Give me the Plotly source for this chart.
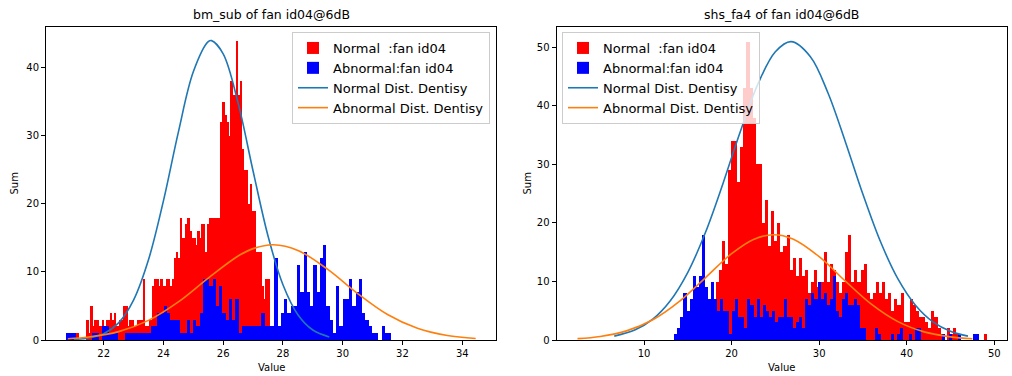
import numpy as np
import plotly.graph_objects as go

# ---------------- data ----------------
titles = ["bm_sub of fan id04@6dB", "shs_fa4 of fan id04@6dB"]
legend_names = ["Normal  :fan id04", "Abnormal:fan id04", "Normal Dist. Dentisy", "Abnormal Dist. Dentisy"]

# left panel: histogram bin ranges (100 bins each) and counts
left_normal_range = [21.05, 27.55]
left_normal_counts = [
    1, 1, 0, 0, 0, 0, 3, 1, 5, 2,
    3, 3, 2, 2, 3, 2, 3, 3, 4, 3,
    4, 2, 2, 3, 3, 5, 5, 2, 3, 3,
    2, 2, 3, 3, 3, 9, 2, 2, 3, 3,
    8, 9, 9, 8, 9, 8, 8, 9, 9, 8,
    9, 12, 13, 12, 18, 15, 15, 17, 18, 16,
    15, 15, 14, 16, 15, 17, 17, 13, 17, 18,
    18, 18, 18, 18, 18, 32, 35, 33, 32, 30,
    38, 36, 36, 44, 36, 38, 28, 25, 25, 20,
    23, 19, 19, 13, 13, 13, 8, 6, 9, 9,
]
left_abnormal_range = [20.75, 31.63]
left_abnormal_counts = [
    1, 1, 1, 0, 0, 0, 0, 0, 1, 1,
    0, 2, 2, 1, 1, 1, 0, 0, 1, 1,
    1, 1, 1, 1, 1, 1, 2, 2, 4, 4,
    5, 4, 3, 3, 3, 1, 1, 3, 1, 3,
    2, 4, 9, 9, 8, 9, 5, 8, 4, 3,
    6, 3, 6, 1, 2, 2, 2, 2, 2, 2,
    4, 2, 2, 2, 12, 2, 4, 6, 4, 5,
    5, 11, 7, 13, 7, 5, 11, 7, 12, 14,
    5, 3, 1, 8, 2, 6, 6, 9, 5, 7,
    9, 4, 3, 2, 1, 1, 0, 2, 1, 1,
]
# left density curves
left_ndist_x = [21.0, 21.5, 22.0, 22.5, 23.0, 23.5, 24.0, 24.5, 25.0, 25.5, 25.61, 26.0, 26.5, 27.0, 27.5, 28.0, 28.5, 29.0, 29.55]
left_ndist_y = [0.08, 0.30, 0.93, 2.52, 5.87, 11.79, 20.44, 30.56, 39.41, 43.84, 44.0, 42.06, 34.81, 24.84, 15.29, 8.12, 3.72, 1.47, 0.45]
left_adist_x = [20.8, 21.5, 22.5, 23.5, 24.5, 25.5, 26.5, 27.0, 27.68, 28.5, 29.5, 30.5, 31.5, 32.5, 33.5, 34.45]
left_adist_y = [0.19, 0.44, 1.23, 2.88, 5.60, 9.10, 12.34, 13.43, 14.0, 13.17, 10.37, 6.82, 3.74, 1.71, 0.65, 0.22]

# right panel
right_normal_range = [13.9, 49.1]
right_normal_counts = [
    1, 0, 0, 1, 0, 2, 1, 3, 2, 3,
    4, 5, 10, 12, 17, 13, 29, 34, 34, 27,
    33, 43, 51, 43, 38, 30, 30, 20, 24, 16,
    22, 17, 20, 15, 16, 18, 12, 14, 11, 14,
    11, 12, 8, 10, 12, 9, 10, 15, 10, 13,
    12, 10, 8, 10, 15, 18, 10, 12, 10, 12,
    13, 8, 7, 8, 10, 8, 10, 7, 8, 5,
    7, 6, 8, 3, 3, 7, 6, 5, 4, 4,
    3, 2, 5, 4, 2, 1, 0, 2, 1, 2,
    1, 0, 0, 0, 0, 0, 0, 0, 0, 1,
]
right_abnormal_range = [13.4, 48.2]
right_abnormal_counts = [
    1, 2, 4, 8, 5, 7, 11, 9, 11, 18,
    9, 7, 10, 7, 5, 7, 5, 5, 1, 5,
    7, 4, 4, 2, 7, 6, 4, 7, 4, 6,
    5, 4, 5, 3, 4, 4, 7, 4, 4, 2,
    3, 4, 2, 7, 6, 8, 7, 10, 7, 8,
    6, 7, 11, 5, 4, 7, 8, 6, 6, 7,
    6, 2, 2, 0, 0, 0, 2, 1, 0, 0,
    0, 1, 0, 1, 2, 0, 0, 1, 0, 2,
    2, 0, 0, 0, 0, 0, 0, 0, 1, 0,
    1, 0, 0, 1, 0, 0, 0, 0, 1, 1,
]
right_ndist_x = [6.6, 9, 11, 13, 15, 17, 19, 21, 23, 25, 26.8, 29, 31, 33, 35, 37, 39, 41, 43, 45, 47]
right_ndist_y = [0.66, 1.74, 3.57, 6.71, 11.57, 18.33, 26.67, 35.64, 43.73, 49.27, 51.0, 48.43, 42.26, 33.86, 24.91, 16.83, 10.44, 5.95, 3.11, 1.50, 0.66]
right_adist_x = [2.4, 5, 8, 11, 14, 17, 20, 22.5, 24.8, 27, 30, 33, 36, 39, 42, 45, 47.5]
right_adist_y = [0.23, 0.60, 1.56, 3.46, 6.56, 10.63, 14.75, 17.19, 18.0, 17.26, 14.24, 10.06, 6.08, 3.14, 1.39, 0.53, 0.21]

left_xticks = [22, 24, 26, 28, 30, 32, 34]
left_yticks = [0, 10, 20, 30, 40]
right_xticks = [10, 20, 30, 40, 50]
right_yticks = [0, 10, 20, 30, 40, 50]

# ---------------- figure ----------------
W, H = 1012, 376
RED, BLUE = "#ff0000", "#0000ff"
LBLUE, ORANGE = "#1f77b4", "#ff7f0e"


def bins(rng, counts):
    edges = np.linspace(rng[0], rng[1], len(counts) + 1)
    centers = (edges[:-1] + edges[1:]) / 2
    return centers, float(edges[1] - edges[0])


fig = go.Figure()

panels = [
    ("x", "y", "legend", left_normal_range, left_normal_counts, left_abnormal_range, left_abnormal_counts,
     left_ndist_x, left_ndist_y, left_adist_x, left_adist_y),
    ("x2", "y2", "legend2", right_normal_range, right_normal_counts, right_abnormal_range, right_abnormal_counts,
     right_ndist_x, right_ndist_y, right_adist_x, right_adist_y),
]
for xa, ya, lg, nr, nc, ar, ac, ndx, ndy, adx, ady in panels:
    cx, w = bins(nr, nc)
    fig.add_trace(go.Bar(x=cx, y=nc, width=w, marker=dict(color=RED, line=dict(width=0)), opacity=1,
                         name=legend_names[0], xaxis=xa, yaxis=ya, legend=lg))
    cx, w = bins(ar, ac)
    fig.add_trace(go.Bar(x=cx, y=ac, width=w, marker=dict(color=BLUE, line=dict(width=0)), opacity=1,
                         name=legend_names[1], xaxis=xa, yaxis=ya, legend=lg))
    fig.add_trace(go.Scatter(x=ndx, y=ndy, mode="lines", line=dict(color=LBLUE, width=1.6, shape="spline", smoothing=1.0),
                             name=legend_names[2], xaxis=xa, yaxis=ya, legend=lg))
    fig.add_trace(go.Scatter(x=adx, y=ady, mode="lines", line=dict(color=ORANGE, width=1.6, shape="spline", smoothing=1.0),
                             name=legend_names[3], xaxis=xa, yaxis=ya, legend=lg))

axis_common = dict(showline=True, mirror=True, linecolor="black", linewidth=1, ticks="outside", ticklen=4,
                   tickwidth=1, tickcolor="black", showgrid=False, zeroline=False, tickmode="array",
                   automargin=False, tickfont=dict(size=10, color="black"))

ydom = [(H - 340) / H, (H - 27) / H]
lx0, lx1 = 46 / W, 496 / W
rx0, rx1 = 556.5 / W, 1006.5 / W

legend_common = dict(bgcolor="rgba(255,255,255,0.8)", bordercolor="#cccccc", borderwidth=1,
                     font=dict(size=13, color="black", family="DejaVu Sans"), yanchor="top",
                     tracegroupgap=0, itemwidth=30)

fig.update_layout(
    width=W, height=H, margin=dict(l=0, r=0, t=0, b=0, autoexpand=False),
    plot_bgcolor="white", paper_bgcolor="white",
    barmode="overlay", bargap=0,
    font=dict(family="DejaVu Sans", size=10, color="black"),
    xaxis=dict(domain=[lx0, lx1], range=[20.07, 35.13], tickvals=left_xticks, anchor="y", **axis_common),
    yaxis=dict(domain=ydom, range=[0, 46.0], tickvals=left_yticks, anchor="x", **axis_common),
    xaxis2=dict(domain=[rx0, rx1], range=[0.0, 51.4], tickvals=right_xticks, anchor="y2", **axis_common),
    yaxis2=dict(domain=ydom, range=[0, 53.5], tickvals=right_yticks, anchor="x2", **axis_common),
    legend=dict(x=490 / W, xanchor="right", y=(H - 32) / H, **legend_common),
    legend2=dict(x=562 / W, xanchor="left", y=(H - 32) / H, **legend_common),
    showlegend=True,
)

ann = []
for (a, b), t, sx in [((lx0, lx1), titles[0], 14 / W), ((rx0, rx1), titles[1], 527 / W)]:
    ann.append(dict(x=(a + b) / 2, y=(H - 14) / H, xref="paper", yref="paper", text=t, showarrow=False,
                    font=dict(size=12.5, color="black"), xanchor="center", yanchor="middle"))
    ann.append(dict(x=(a + b) / 2, y=(H - 367) / H, xref="paper", yref="paper", text="Value", showarrow=False,
                    font=dict(size=10, color="black"), xanchor="center", yanchor="middle"))
    ann.append(dict(x=sx, y=(ydom[0] + ydom[1]) / 2, xref="paper", yref="paper", text="Sum", showarrow=False,
                    textangle=-90, font=dict(size=10, color="black"), xanchor="center", yanchor="middle"))
fig.update_layout(annotations=ann)

fig.write_html("out.html")
